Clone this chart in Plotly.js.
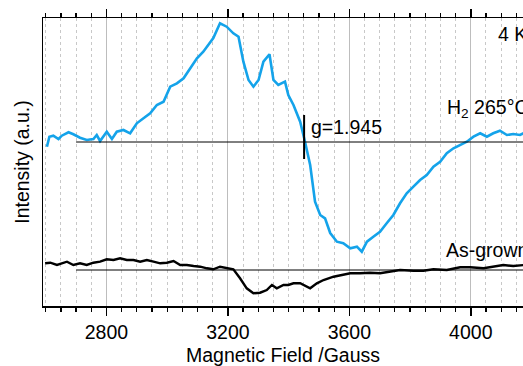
<!DOCTYPE html>
<html>
<head>
<meta charset="utf-8">
<script src="https://cdn.plot.ly/plotly-3.0.1.min.js"></script>
<style>
html,body{margin:0;padding:0;background:#fff;overflow:hidden;}
#chart{width:523px;height:366px;}
</style>
</head>
<body>
<div id="chart"></div>
<script>
// Magnetic field (Gauss) and relative intensity (a.u.)
const fieldH2 = [2604,2612,2625,2642,2653,2675,2691,2713,2735,2757,2768,2779,2801,2818,2834,2856,2878,2900,2922,2944,2966,2988,3010,3032,3054,3076,3098,3119,3136,3152,3174,3196,3218,3235,3251,3268,3284,3301,3317,3337,3350,3366,3388,3399,3416,3438,3454,3471,3487,3504,3520,3537,3559,3580,3603,3625,3641,3658,3679,3701,3723,3745,3767,3789,3811,3833,3855,3877,3899,3921,3943,3965,3987,4009,4031,4053,4074,4096,4119,4140,4162,4175];
const signalH2 = [-4.7,5.3,6.3,3,6.3,9.7,7.7,4.3,2,3,7,1,10.3,3,10.3,12,8.7,18.7,23.7,28.7,37,40.3,55.3,58.7,63.7,73.7,83.7,90.3,97,104,118.7,115.3,108.7,105.3,80.3,62,55.3,62,80.3,87.7,62,57,60.3,47,37,20.3,0.3,-23,-59.7,-73,-76.3,-91,-99.7,-101.3,-106.3,-104.7,-109.7,-99.7,-94.7,-89.7,-81.3,-73,-61.3,-51.3,-44.7,-38,-33,-24.7,-19.7,-11.3,-6.3,-3,0.3,5.3,8.7,5.3,8.7,11.3,7,8,7,9];

const fieldAs = [2598,2615,2637,2670,2691,2713,2735,2757,2779,2801,2823,2845,2867,2889,2911,2933,2955,2977,2999,3021,3043,3065,3087,3109,3131,3152,3174,3196,3218,3240,3262,3284,3306,3328,3345,3361,3383,3399,3416,3438,3471,3493,3515,3548,3580,3603,3635,3668,3701,3734,3767,3811,3844,3877,3921,3965,3998,4042,4074,4107,4140,4175];
const signalAs = [6.7,7.3,5,8.3,5,6.7,5,7.3,8.3,10.7,10,11.7,10,10,8.3,10,8.3,6.7,7.3,9,5,5,4,3.3,1.7,0.7,3.3,1.7,0.7,-8.3,-18.3,-23.3,-22.7,-20,-15,-18.3,-15,-15,-13.3,-13.3,-18.3,-13.3,-10,-6.7,-5,-3.3,-3.3,-2.7,-3.3,-1.7,0,-0.7,-0.7,0.7,0,2.7,2.7,1.7,3.3,5,4,5];

const offsetH2 = 164;
const offsetAs = 36;
const baselineStart = 2700;
const baselineEnd = 4300;
const gField = 3451;
const labels = {temp: "4 K", h2: "H<sub>2</sub> 265°C", asg: "As-grown", g: "g=1.945"};

const yH2 = signalH2.map(v => v + offsetH2);
const yAs = signalAs.map(v => v + offsetAs);

const font = {family: "Liberation Sans, Arial, sans-serif", size: 19.5, color: "#000"};
const xRange = [2591, 4172];

const traces = [
  {x: fieldH2, y: yH2, type: "scatter", mode: "lines", line: {color: "#14a3ea", width: 2.6}, hoverinfo: "skip"},
  {x: fieldAs, y: yAs, type: "scatter", mode: "lines", line: {color: "#000", width: 2.4}, hoverinfo: "skip"},
  {x: [xRange[0]], y: [0], xaxis: "x2", type: "scatter", mode: "markers", marker: {opacity: 0}, hoverinfo: "skip"},
  {x: [xRange[0]], y: [0], xaxis: "x3", type: "scatter", mode: "markers", marker: {opacity: 0}, hoverinfo: "skip"}
];

function tickAxis(side) {
  return {
    range: xRange, overlaying: "x", side: side, anchor: "y",
    tick0: 0, dtick: 400, ticks: "outside", ticklen: 8, tickwidth: 1.5, tickcolor: "#000",
    showticklabels: false, showgrid: false, showline: false, zeroline: false,
    minor: {dtick: 50, tick0: 0, ticks: "outside", ticklen: 4, tickwidth: 1.2, tickcolor: "#000", showgrid: false}
  };
}

const layout = {
  width: 523, height: 366,
  margin: {l: 43, r: 0, t: 18, b: 60},
  paper_bgcolor: "#fff", plot_bgcolor: "#fff",
  showlegend: false,
  font: font,
  xaxis: {
    range: xRange, tick0: 0, dtick: 400,
    ticks: "outside", ticklen: 8, tickwidth: 1.5, tickcolor: "#000",
    showline: true, linecolor: "#000", linewidth: 1.5, mirror: true,
    showgrid: true, gridcolor: "#bdbdbd", gridwidth: 1,
    tickfont: font,
    minor: {dtick: 50, tick0: 0, ticks: "outside", ticklen: 4, tickwidth: 1.2, tickcolor: "#000",
            showgrid: true, gridcolor: "#c8c8c8", gridwidth: 1, griddash: "dot"},
    title: {text: "Magnetic Field /Gauss", font: font}
  },
  xaxis2: tickAxis("top"),
  xaxis3: tickAxis("bottom"),
  yaxis: {
    range: [0, 288],
    showticklabels: false, ticks: "",
    showline: true, linecolor: "#000", linewidth: 1.5,
    showgrid: false, zeroline: false,
    title: {text: "Intensity (a.u.)", font: font, standoff: 6}
  },
  shapes: [
    {type: "line", xref: "x", yref: "y", x0: baselineStart, x1: baselineEnd, y0: offsetH2, y1: offsetH2, line: {color: "#000", width: 1}},
    {type: "line", xref: "x", yref: "y", x0: baselineStart, x1: baselineEnd, y0: offsetAs, y1: offsetAs, line: {color: "#000", width: 1}},
    {type: "line", xref: "x", yref: "y", x0: gField, x1: gField, y0: 147, y1: 191, line: {color: "#000", width: 2}}
  ],
  annotations: [
    {x: 4083, y: 272, xref: "x", yref: "y", text: labels.temp, showarrow: false, xanchor: "left", yanchor: "middle", font: font},
    {x: 3915, y: 198, xref: "x", yref: "y", text: labels.h2, showarrow: false, xanchor: "left", yanchor: "middle", font: font},
    {x: 3467, y: 179, xref: "x", yref: "y", text: labels.g, showarrow: false, xanchor: "left", yanchor: "middle", font: font},
    {x: 3912, y: 56, xref: "x", yref: "y", text: labels.asg, showarrow: false, xanchor: "left", yanchor: "middle", font: font}
  ]
};

Plotly.newPlot("chart", traces, layout, {staticPlot: true, displayModeBar: false});
</script>
</body>
</html>
